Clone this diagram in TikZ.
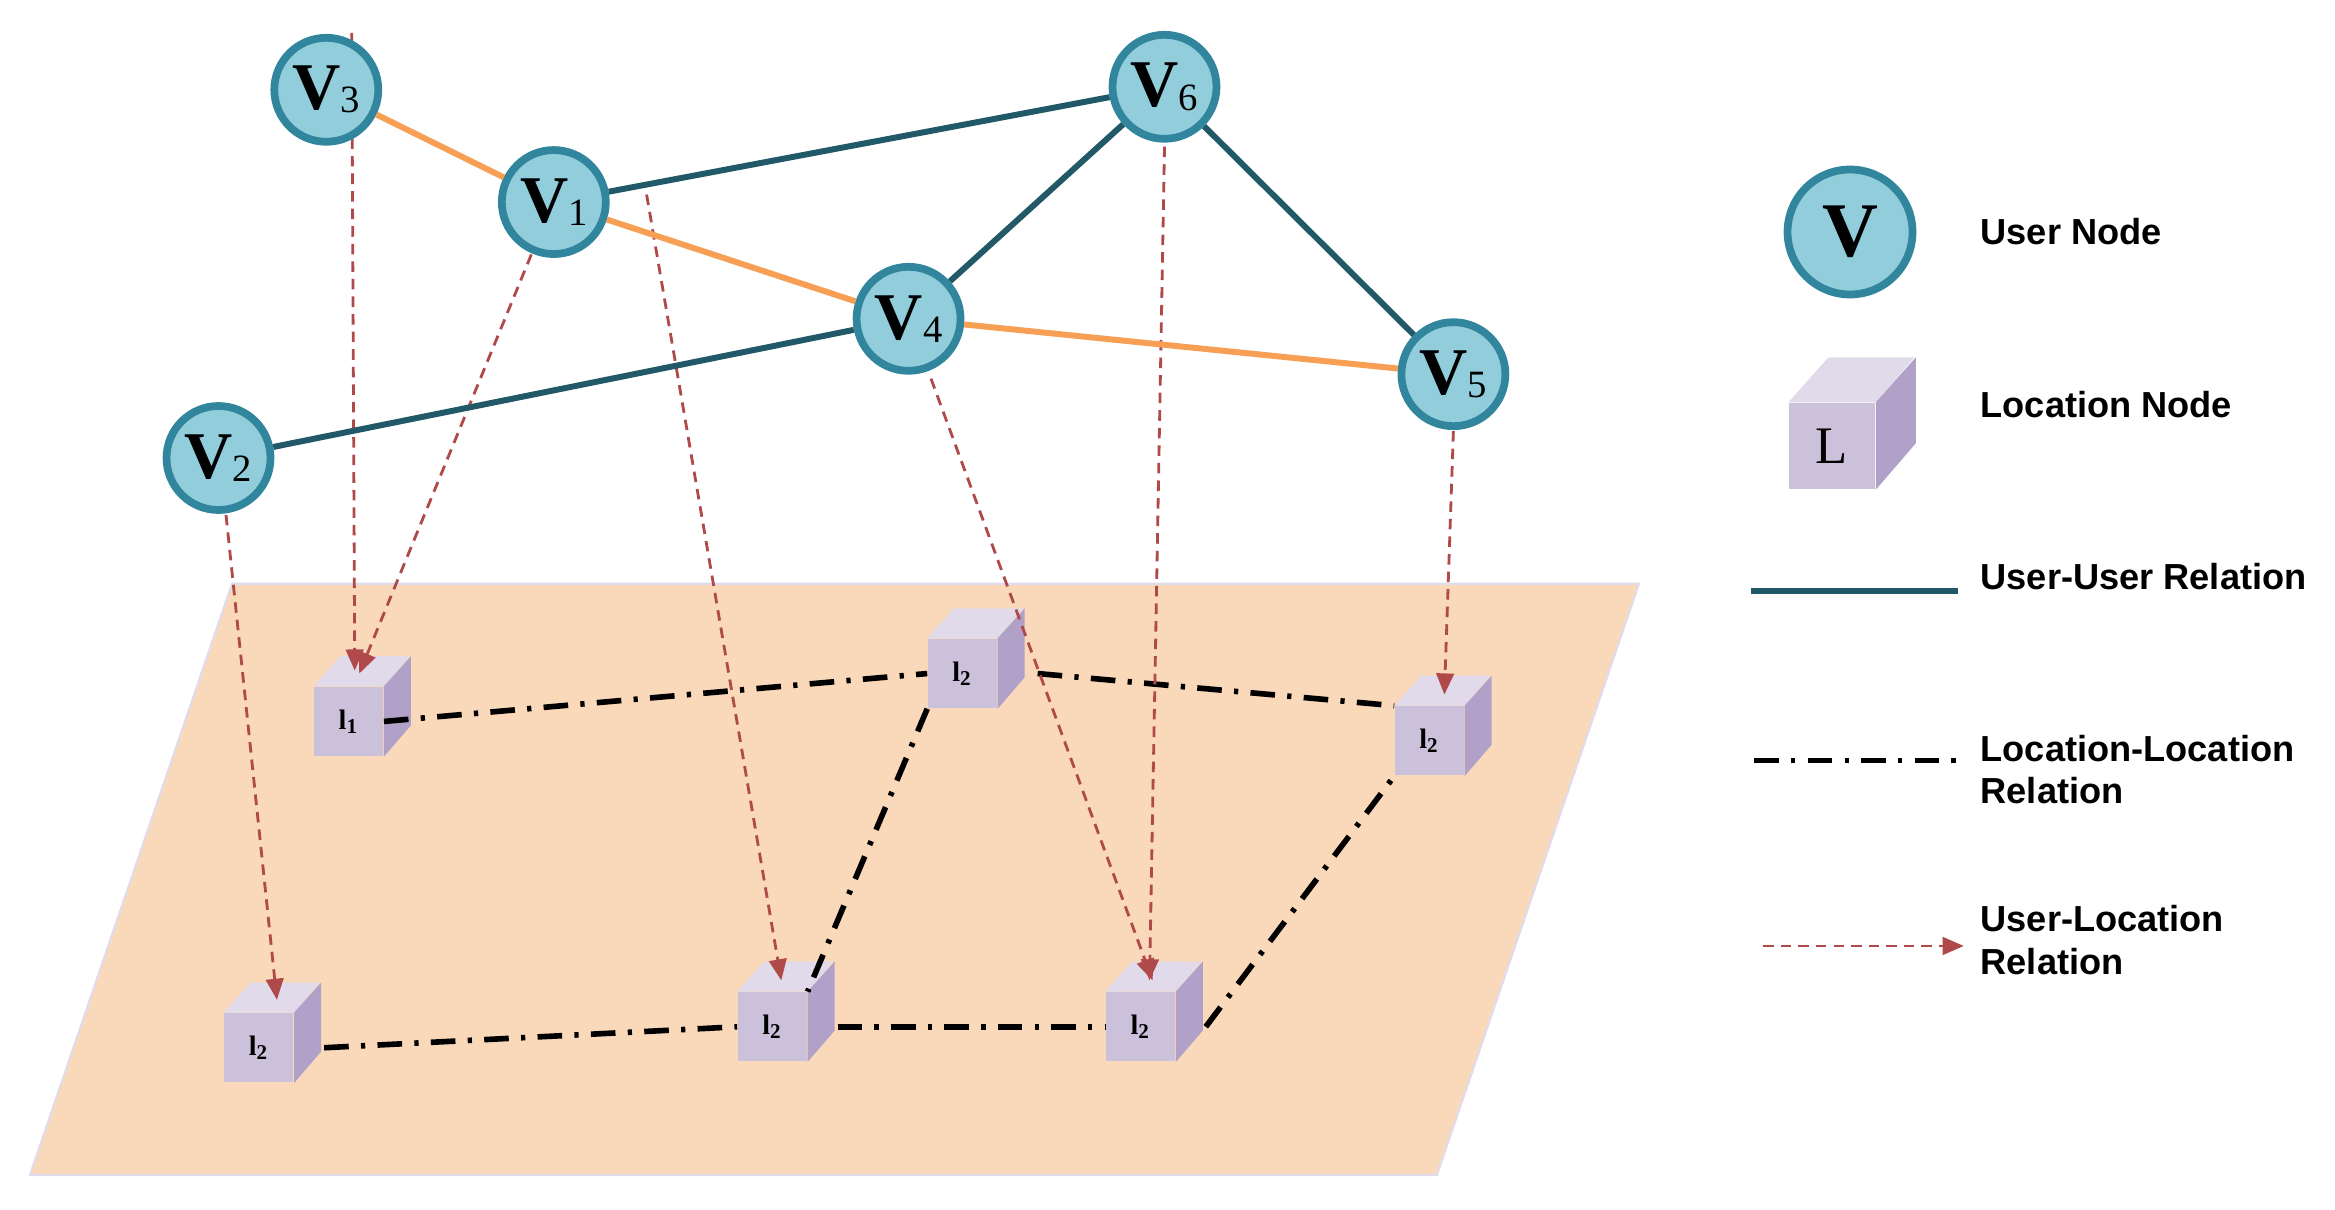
\documentclass[tikz,border=0pt]{standalone}
\usepackage{fontspec}
\setmainfont{Liberation Serif}
\newfontfamily\lsans{Liberation Sans}
\usetikzlibrary{arrows.meta}
\definecolor{cfill}{HTML}{92CDDC}
\definecolor{cbord}{HTML}{31859C}
\definecolor{teal}{HTML}{215968}
\definecolor{orng}{HTML}{F79F55}
\definecolor{plane}{HTML}{FAD8BA}
\definecolor{cfront}{HTML}{CCC1DA}
\definecolor{ctop}{HTML}{E0DAEA}
\definecolor{cside}{HTML}{B1A0C7}
\definecolor{ured}{HTML}{B04A4A}
\newcommand\mkcube[5][0.69cm]{%
  \node[cubef,minimum size=#1] (#2) at #3 {#4};
  \fill[ctop] (#2.north west) -- ++(#5) -- ++(#1,0cm) -- (#2.north east) -- cycle;
  \fill[cside] (#2.north east) -- ++(#5) -- ++(0cm,-#1) -- (#2.south east) -- cycle;
}
\newcommand\vsub[1]{\raisebox{-0.1ex}{\mdseries\fontsize{11}{11}\selectfont #1}}
\tikzset{
  user/.style={circle,fill=cfill,draw=cbord,line width=2.2pt,minimum size=1.04cm,inner sep=0pt,font=\bfseries\fontsize{19}{19}\selectfont},
  cubef/.style={fill=cfront,inner sep=0pt,font=\bfseries\fontsize{8}{8}\selectfont},
  uu/.style={teal,line width=1.7pt},
  oo/.style={orng,line width=1.7pt},
  ll/.style={black,line width=1.6pt,dash pattern=on 7pt off 3.5pt on 1.2pt off 3.5pt},
  ul/.style={ured,line width=0.8pt,dash pattern=on 3pt off 2pt,-{Triangle[width=5pt,length=6pt]}},
  leg/.style={font=\lsans\bfseries\fontsize{10.3}{12}\selectfont,anchor=west,align=left}
}
\begin{document}
\begin{tikzpicture}[x=0.01497cm,y=-0.01497cm]
\useasboundingbox (0,0) rectangle (1560,808);
% plane
\fill[plane,draw={rgb,255:red,225;green,220;blue,235},line width=0.6pt] (155,390) -- (1095,390) -- (960,785) -- (20,785) -- cycle;
% cubes
\mkcube{c1}{(233,482)}{l\textsubscript{1}}{0.27cm,0.30cm}
\mkcube{c2}{(643,450)}{l\textsubscript{2}}{0.27cm,0.30cm}
\mkcube{c3}{(955,495)}{l\textsubscript{2}}{0.27cm,0.30cm}
\mkcube{c4}{(173,700)}{l\textsubscript{2}}{0.27cm,0.30cm}
\mkcube{c5}{(516,686)}{l\textsubscript{2}}{0.27cm,0.30cm}
\mkcube{c6}{(762,686)}{l\textsubscript{2}}{0.27cm,0.30cm}
% location-location
\draw[ll] (c1.east) -- (c2.west);
\draw[ll] ([xshift=0.4cm]c2.east) -- (c3.north west);
\draw[ll] (c2.south west) -- (c5.north east);
\draw[ll] ([xshift=0.3cm]c4.east) -- (c5.west);
\draw[ll] ([xshift=0.3cm]c5.east) -- (c6.west);
\draw[ll] ([xshift=0.3cm]c6.east) -- (c3.south west);
% user nodes positions
\coordinate (p3) at (218,60);
\coordinate (p1) at (370,135);
\coordinate (p6) at (778,58);
\coordinate (p4) at (607,213);
\coordinate (p5) at (971,250);
\coordinate (p2) at (146,306);
\coordinate (s3) at (235,22);
\coordinate (s1) at (432,130);
% user-location arrows
\draw[ul] (s3) -- (237,448);
\draw[ul] (p1) ++(-15,35) -- (240,450);
\draw[ul] (s1) -- (522,655);
\draw[ul] (p2) ++(5,38) -- (185,668);
\draw[ul] (p4) ++(15,40) -- (770,655);
\draw[ul] (p6) ++(0,40) -- (768,655);
\draw[ul] (p5) ++(0,38) -- (965,464);
% user nodes
\node[user] (v3) at (p3) {V\vsub{3}};
\node[user] (v1) at (p1) {V\vsub{1}};
\node[user] (v6) at (p6) {V\vsub{6}};
\node[user] (v4) at (p4) {V\vsub{4}};
\node[user] (v5) at (p5) {V\vsub{5}};
\node[user] (v2) at (p2) {V\vsub{2}};
% edges
\draw[oo] (v3) -- (v1);
\draw[oo] (v1) -- (v4);
\draw[oo] (v4) -- (v5);
\draw[uu] (v1) -- (v6);
\draw[uu] (v6) -- (v4);
\draw[uu] (v6) -- (v5);
\draw[uu] (v2) -- (v4);
% legend
\node[user,minimum size=1.25cm,font=\bfseries\fontsize{22}{22}\selectfont] (lv) at (1236,155) {V};
\node[leg] (t1) at (1315,155) {User Node};
\mkcube[0.86cm]{lc}{(1224,298)}{\mdseries\fontsize{15}{15}\selectfont L}{0.40cm,0.45cm}
\node[leg] (t2) at (1315,270) {Location Node};
\coordinate (a1) at (1170,395);
\coordinate (a2) at (1308,395);
\draw[uu] (a1) -- (a2);
\node[leg] (t3) at (1315,385) {User-User Relation};
\coordinate (b1) at (1172,508);
\coordinate (b2) at (1308,508);
\draw[ll] (b1) -- (b2);
\node[leg] (t4) at (1315,514) {Location-Location\\Relation};
\coordinate (d1) at (1178,632);
\coordinate (d2) at (1312,632);
\draw[ul] (d1) -- (d2);
\node[leg] (t5) at (1315,628) {User-Location\\Relation};
\end{tikzpicture}
\end{document}
